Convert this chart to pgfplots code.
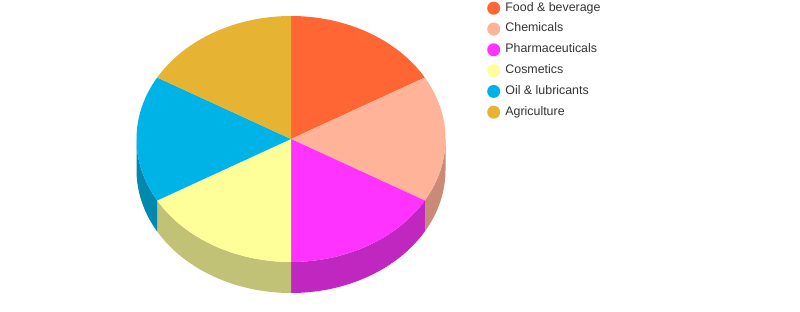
\documentclass[border=0pt]{standalone}
\usepackage{pgfplots}
\pgfplotsset{compat=1.18}
\usepackage{pgfplotstable}
\usepackage{fontspec}
\setmainfont{Liberation Sans}
\definecolor{c0}{HTML}{FF6633}
\definecolor{c1}{HTML}{FFB399}
\definecolor{c2}{HTML}{FF33FF}
\definecolor{c3}{HTML}{FFFF99}
\definecolor{c4}{HTML}{00B3E6}
\definecolor{c5}{HTML}{E6B333}
\definecolor{s0}{HTML}{C75028}
\definecolor{s1}{HTML}{C98B77}
\definecolor{s2}{HTML}{C026C0}
\definecolor{s3}{HTML}{C2C277}
\definecolor{s4}{HTML}{0088AE}
\definecolor{s5}{HTML}{B08828}
\definecolor{txt}{HTML}{333333}
\pgfplotstableread[col sep=comma]{
label,value
Food \& beverage,1
Chemicals,1
Pharmaceuticals,1
Cosmetics,1
Oil \& lubricants,1
Agriculture,1
}\piedata
\begin{document}
\begin{tikzpicture}
\begin{axis}[
  scale only axis, width=800pt, height=311pt,
  xmin=0, xmax=800, ymin=0, ymax=311,
  hide axis, clip=false,
  legend style={at={(axis cs:487,310)}, anchor=north west, draw=none, fill=none,
    font=\fontsize{12.4}{14}\selectfont\color{txt}, inner sep=0pt, row sep=6.8pt,
    nodes={inner xsep=2pt, inner ysep=1pt, text height=9pt, text depth=3pt}},
  legend cell align=left,
  legend image code/.code={\fill[#1,draw=none] (6.5pt,0pt) circle (6.5pt); \path (16pt,0pt);},
]
\addlegendimage{fill=c0}\addlegendentry{Food \& beverage}
\addlegendimage{fill=c1}\addlegendentry{Chemicals}
\addlegendimage{fill=c2}\addlegendentry{Pharmaceuticals}
\addlegendimage{fill=c3}\addlegendentry{Cosmetics}
\addlegendimage{fill=c4}\addlegendentry{Oil \& lubricants}
\addlegendimage{fill=c5}\addlegendentry{Agriculture}
\pgfplotsextra{
  \path (axis cs:0,0) rectangle (axis cs:800,311);
  \def\cx{291}\def\cy{172}\def\rx{154.5}\def\ry{123}\def\dep{31}
  \pgfplotstablegetrowsof{\piedata}\pgfmathtruncatemacro\lastrow{\pgfplotsretval-1}
  \def\total{0}
  \pgfplotsforeachungrouped \i in {0,...,\lastrow}{%
    \pgfplotstablegetelem{\i}{value}\of{\piedata}%
    \pgfmathsetmacro\total{\total+\pgfplotsretval}%
  }
  % side walls
  \def\cum{0}
  \pgfplotsforeachungrouped \i in {0,...,\lastrow}{%
    \pgfplotstablegetelem{\i}{value}\of{\piedata}%
    \pgfmathsetmacro\aa{90-360*\cum/\total}%
    \pgfmathsetmacro\cum{\cum+\pgfplotsretval}%
    \pgfmathsetmacro\ab{90-360*\cum/\total}%
    \pgfmathsetmacro\ss{max(\ab,-180)}%
    \pgfmathsetmacro\ee{min(\aa,0)}%
    \pgfmathparse{\ss<\ee ? 1 : 0}%
    \ifdim\pgfmathresult pt>0.5pt
      \fill[s\i] (axis cs:{\cx+\rx*cos(\ee)},{\cy+\ry*sin(\ee)})
        arc[start angle=\ee, end angle=\ss, x radius=\rx pt, y radius=\ry pt]
        -- ++(0pt,-\dep pt)
        arc[start angle=\ss, end angle=\ee, x radius=\rx pt, y radius=\ry pt]
        -- cycle;
    \fi
  }
  % top faces
  \def\cum{0}
  \pgfplotsforeachungrouped \i in {0,...,\lastrow}{%
    \pgfplotstablegetelem{\i}{value}\of{\piedata}%
    \pgfmathsetmacro\aa{90-360*\cum/\total}%
    \pgfmathsetmacro\cum{\cum+\pgfplotsretval}%
    \pgfmathsetmacro\ab{90-360*\cum/\total}%
    \fill[c\i] (axis cs:\cx,\cy) -- (axis cs:{\cx+\rx*cos(\aa)},{\cy+\ry*sin(\aa)})
      arc[start angle=\aa, end angle=\ab, x radius=\rx pt, y radius=\ry pt] -- cycle;
  }
}
\end{axis}
\end{tikzpicture}
\end{document}
